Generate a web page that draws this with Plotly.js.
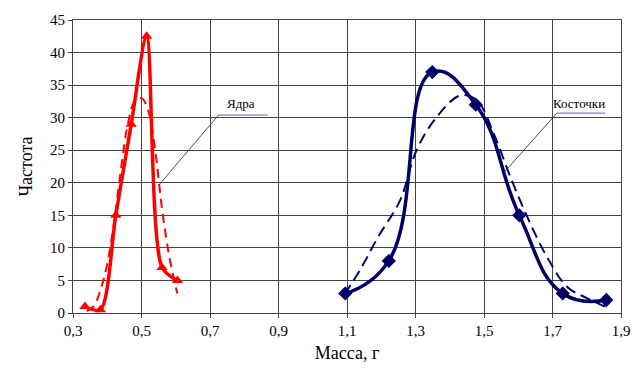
<!DOCTYPE html>
<html><head><meta charset="utf-8">
<script src="https://cdn.plot.ly/plotly-3.0.1.min.js"></script>
<style>html,body{margin:0;padding:0;background:#fff}</style>
</head><body><div id="chart" style="width:632px;height:372px"></div>
<script>
// Ядра (kernels) observed
const kernelMass = [0.335, 0.38, 0.425, 0.47, 0.515, 0.56, 0.605];
const kernelFreq = [1, 0.5, 15, 29, 42.5, 7, 5];
// Ядра fitted (dashed)
const kernelFitMass = [0.34, 0.36, 0.38, 0.40, 0.42, 0.44, 0.46, 0.48, 0.50, 0.52, 0.54, 0.56, 0.58, 0.60, 0.605];
const kernelFitFreq = [0.3, 1, 3.5, 7.5, 14, 22, 29, 32.5, 33, 31, 25, 16, 9, 4, 3];
// Косточки (stones) observed
const stoneMass = [1.095, 1.222, 1.349, 1.476, 1.603, 1.73, 1.857];
const stoneFreq = [3, 8, 37, 32, 15, 3, 2];
// Косточки fitted (dashed)
const stoneFitMass = [1.092, 1.138, 1.191, 1.255, 1.303, 1.362, 1.43, 1.479, 1.528, 1.577, 1.626, 1.684, 1.743, 1.8, 1.853];
const stoneFitFreq = [2.8, 6.6, 11.7, 17.3, 25, 30.1, 33.4, 32.7, 27.6, 20.9, 14.8, 8.6, 4, 2.3, 1];

const xTicks = [0.3, 0.5, 0.7, 0.9, 1.1, 1.3, 1.5, 1.7, 1.9];
const yTicks = [0, 5, 10, 15, 20, 25, 30, 35, 40, 45];
const labelKernel = 'Ядра';
const labelStone = 'Косточки';

const RED = '#ff0000', NAVY = '#000066';
const traces = [
  {x: kernelFitMass, y: kernelFitFreq, mode: 'lines', line: {color: RED, width: 2, dash: '9px,6px', shape: 'spline'}, hoverinfo: 'skip'},
  {x: kernelMass, y: kernelFreq, mode: 'lines+markers', line: {color: RED, width: 3.5, shape: 'spline', smoothing: 0.8},
   marker: {symbol: 'triangle-up', size: 10, color: RED}},
  {x: stoneFitMass, y: stoneFitFreq, mode: 'lines', line: {color: NAVY, width: 2, dash: '11px,6px', shape: 'spline'}, hoverinfo: 'skip'},
  {x: stoneMass, y: stoneFreq, mode: 'lines+markers', line: {color: NAVY, width: 3.5, shape: 'spline', smoothing: 1.3},
   marker: {symbol: 'diamond', size: 11, color: NAVY}}
];

const FAM = 'Times New Roman, Liberation Serif, serif';
const f = (size) => ({family: FAM, size: size, color: '#000'});
const layout = {
  width: 632, height: 372,
  margin: {l: 73, r: 11, t: 20, b: 59},
  showlegend: false,
  separators: ', ',
  paper_bgcolor: '#fff', plot_bgcolor: '#fff',
  font: f(15),
  xaxis: {
    range: [0.3, 1.9], tickvals: xTicks, tickformat: '.1f',
    showgrid: true, gridcolor: '#444', gridwidth: 1,
    showline: true, linecolor: '#444', mirror: true,
    ticks: 'outside', ticklen: 4, tickcolor: '#444',
    zeroline: false,
    title: {text: 'Масса, г', font: f(18), standoff: 8},
    tickfont: f(15)
  },
  yaxis: {
    range: [0, 45], tickvals: yTicks,
    showgrid: true, gridcolor: '#444', gridwidth: 1,
    showline: true, linecolor: '#444', mirror: true,
    ticks: 'outside', ticklen: 4, tickcolor: '#444',
    zeroline: false,
    title: {text: 'Частота', font: f(18), standoff: 12},
    tickfont: f(15)
  },
  shapes: [
    {type: 'line', x0: 0.725, y0: 30.4, x1: 0.868, y1: 30.4, line: {color: '#4a6fa5', width: 1}},
    {type: 'line', x0: 0.725, y0: 30.4, x1: 0.55, y1: 19.6, line: {color: '#222', width: 0.8}},
    {type: 'line', x0: 1.713, y0: 30.7, x1: 1.854, y1: 30.7, line: {color: '#4a6fa5', width: 1}},
    {type: 'line', x0: 1.713, y0: 30.7, x1: 1.562, y1: 21.8, line: {color: '#222', width: 0.8}}
  ],
  annotations: [
    {x: 0.79, y: 32.1, text: labelKernel, showarrow: false, font: f(13)},
    {x: 1.776, y: 32.2, text: labelStone, showarrow: false, font: f(13)}
  ]
};
Plotly.newPlot('chart', traces, layout, {staticPlot: true, displayModeBar: false});
</script></body></html>
